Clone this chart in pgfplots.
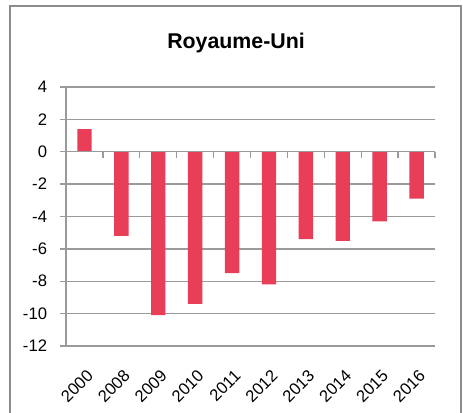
\documentclass[border=0pt]{standalone}
\usepackage{pgfplots}
\pgfplotsset{compat=1.18}
\usepackage{fontspec}
\setmainfont{Liberation Sans}
\definecolor{barred}{HTML}{E83E58}
\definecolor{gridgray}{HTML}{9A9A9A}
\definecolor{framegray}{HTML}{8C8C8C}
\begin{document}
\begin{tikzpicture}[x=0.75pt,y=0.75pt]
% bounding box matching 463x413 px; axis lower-left at pixel (66,346)
\path[use as bounding box] (-66,-67) rectangle (397,346);
\draw[framegray, line width=1.5pt] (-56,-80) -- (-56,340) -- (395,340) -- (395,-80);
\node[font=\bfseries\fontsize{16}{18}\selectfont] at (170,303) {Royaume-Uni};
\begin{axis}[
  at={(0,0)}, anchor=south west,
  scale only axis,
  width=276.75pt, height=194.25pt,
  xmin=-0.5, xmax=9.5,
  ymin=-12, ymax=4,
  ytick={-12,-10,...,4},
  xtick={0,...,9},
  xticklabels={2000,2008,2009,2010,2011,2012,2013,2014,2015,2016},
  xticklabel style={rotate=45, anchor=north east, font=\fontsize{12.5}{14}\selectfont, inner sep=0pt, xshift=-8pt, yshift=-9.5pt},
  yticklabel style={font=\fontsize{12.5}{14}\selectfont, inner sep=0pt, xshift=-9.5pt},
  /pgf/number format/assume math mode=true,
  axis x line*=bottom,
  x axis line style={draw=none},
  xtick style={draw=none},
  axis y line*=left,
  y axis line style={gridgray, line width=1.1pt, -},
  ymajorgrids,
  major grid style={gridgray, line width=1.1pt},
  major tick length=4.5pt,
  ytick style={gridgray, line width=1pt},
  tick align=outside,
  clip=false,
]
\addplot[ybar, bar width=10.8pt, fill=barred, draw=none, bar shift=0pt]
  coordinates {(0,1.4) (1,-5.2) (2,-10.1) (3,-9.4) (4,-7.5) (5,-8.2) (6,-5.4) (7,-5.5) (8,-4.3) (9,-2.9)};
\end{axis}
\begin{axis}[
  at={(0,0)}, anchor=south west,
  scale only axis,
  width=276.75pt, height=194.25pt,
  xmin=-0.5, xmax=9.5,
  ymin=-12, ymax=4,
  axis y line=none,
  axis x line=middle,
  axis line style={gridgray, line width=1.1pt, -},
  xtick={-0.5,0.5,...,9.5},
  xticklabels={},
  tick style={gridgray, line width=1pt},
  major tick length=4.5pt,
  tick align=outside,
]
\end{axis}
\end{tikzpicture}
\end{document}
